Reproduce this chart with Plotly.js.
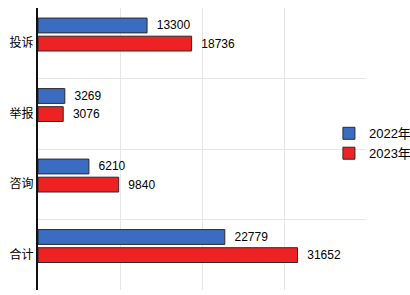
<!DOCTYPE html>
<html><head><meta charset="utf-8">
<script src="https://cdn.plot.ly/plotly-3.0.1.min.js"></script>
<style>html,body{margin:0;padding:0;background:#fff}#c{width:410px;height:295px}</style>
</head><body><div id="c"></div>
<script>
const categories = ["投诉", "举报", "咨询", "合计"];
const seriesNames = ["2022年", "2023年"];
const values2022 = [13300, 3269, 6210, 22779];
const values2023 = [18736, 3076, 9840, 31652];

const numFont = "'Liberation Sans','Noto Sans CJK SC',sans-serif";
const cjkFont = "'Noto Sans CJK SC',sans-serif";

const common = {
  type: 'bar', orientation: 'h', y: categories,
  textposition: 'outside', texttemplate: '\u00a0\u00a0%{text}',
  textfont: {family: numFont, size: 12, color: '#000'},
  cliponaxis: false, width: 0.21, hoverinfo: 'none'
};
const traces = [
  Object.assign({}, common, {name: seriesNames[0], x: values2022, text: values2022.map(String), offset: -0.357, legendgroup: 'a',
    marker: {color: '#3a6cc2', line: {color: '#2a2a2a', width: 1}}}),
  Object.assign({}, common, {name: seriesNames[1], x: values2023, text: values2023.map(String), offset: -0.1, legendgroup: 'b',
    marker: {color: '#ee2222', line: {color: '#2a2a2a', width: 1}}})
];
const layout = {
  width: 410, height: 295,
  margin: {l: 38, r: 44, t: 8, b: 5, autoexpand: false},
  paper_bgcolor: '#fff', plot_bgcolor: '#fff',
  barmode: 'overlay',
  showlegend: true,
  legend: {x: 0.887, xanchor: 'left', y: 0.52, yanchor: 'middle', bgcolor: 'rgba(0,0,0,0)',
    font: {family: numFont, size: 13, color: '#000'}, tracegroupgap: 11, traceorder: 'normal'},
  xaxis: {range: [0, 40000], dtick: 10000, showticklabels: false, showgrid: true,
    gridcolor: '#e6e6e6', gridwidth: 1, zeroline: false, showline: false, fixedrange: true},
  yaxis: {type: 'category', autorange: 'reversed', tickson: 'boundaries', showgrid: true,
    gridcolor: '#e6e6e6', gridwidth: 1, showline: true, linecolor: '#111', linewidth: 2,
    ticks: '', tickfont: {family: cjkFont, size: 12, color: '#000'}, fixedrange: true}
};
Plotly.newPlot('c', traces, layout, {displayModeBar: false, staticPlot: true});
</script></body></html>
